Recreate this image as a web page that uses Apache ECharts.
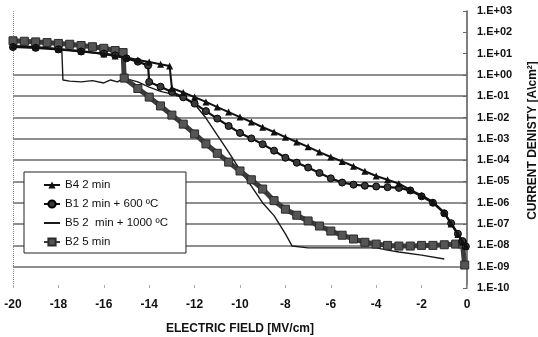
<!DOCTYPE html>
<html>
<head>
<meta charset="utf-8">
<script src="https://cdn.jsdelivr.net/npm/echarts@6/dist/echarts.min.js"></script>
<style>
  html, body { margin: 0; padding: 0; background: #fff; }
  #main { width: 538px; height: 337px; }
</style>
</head>
<body>
<div id="main"></div>
<script>
// electric field [MV/cm] and current density [A/cm2]
const xTicks = [-20, -18, -16, -14, -12, -10, -8, -6, -4, -2, 0]

const fieldB4 = [-20, -19, -18, -17, -16, -15.5, -15, -14.5, -14, -13.5, -13.1, -13, -12.5, -12, -11.5, -11, -10.5, -10, -9.5, -9, -8.5, -8, -7.5, -7, -6.5, -6, -5.5, -5, -4.5, -4, -3.5, -3, -2.5, -2, -1.5, -1, -0.7, -0.4, -0.2, -0.05]
const densityB4 = [23, 20.4, 16.6, 13.2, 9.5, 7.8, 6.6, 5.0, 4.0, 3.2, 2.6, 0.24, 0.15, 0.091, 0.054, 0.031, 0.018, 0.0105, 6.2e-3, 3.5e-3, 2.1e-3, 1.2e-3, 7.1e-4, 4.2e-4, 2.4e-4, 1.4e-4, 8.7e-5, 5.2e-5, 3.0e-5, 1.8e-5, 1.2e-5, 7.9e-6, 4.0e-6, 2.2e-6, 1.1e-6, 3.5e-7, 1.0e-7, 3.2e-8, 1.4e-8, 9.3e-9]

const fieldB1 = [-20, -19, -18, -17, -16, -15.5, -15, -14.5, -14.05, -14, -13.5, -13, -12.5, -12, -11.5, -11, -10.5, -10, -9.5, -9, -8.5, -8, -7.5, -7, -6.5, -6, -5.5, -5, -4.5, -4, -3.5, -3, -2.5, -2, -1.5, -1, -0.7, -0.4, -0.2, -0.05]
const densityB1 = [20.4, 18.6, 15.8, 12.6, 10, 8.3, 6.0, 4.2, 2.8, 0.47, 0.28, 0.16, 0.089, 0.045, 0.020, 8.9e-3, 4.0e-3, 1.9e-3, 1.05e-3, 5.6e-4, 2.8e-4, 1.3e-4, 7.6e-5, 4.5e-5, 2.5e-5, 1.4e-5, 8.9e-6, 7.1e-6, 6.3e-6, 5.8e-6, 5.4e-6, 5.0e-6, 3.8e-6, 2.0e-6, 1.0e-6, 3.2e-7, 1.1e-7, 3.5e-8, 1.6e-8, 8.9e-9]

const fieldB5 = [-20, -19, -18, -17.85, -17.8, -17.5, -17, -16.5, -16, -15.7, -15.4, -15.1, -14.5, -14, -13.5, -13, -12.5, -12, -11.5, -11, -10.5, -10, -9.5, -9, -8.5, -8, -7.7, -7, -6, -5, -4, -3.5, -3, -2, -1]
const densityB5 = [23, 20, 16.6, 15.8, 0.58, 0.51, 0.47, 0.54, 0.42, 0.58, 0.47, 0.71, 0.47, 0.27, 0.17, 0.126, 0.083, 0.043, 9.5e-3, 1.5e-3, 2.4e-4, 3.5e-5, 6.0e-6, 9.8e-7, 2.5e-7, 3.5e-8, 9.3e-9, 7.6e-9, 7.6e-9, 7.6e-9, 7.6e-9, 6.0e-9, 4.9e-9, 3.5e-9, 2.3e-9]

const fieldB2 = [-20, -19.5, -19, -18.5, -18, -17.5, -17, -16.5, -16, -15.5, -15.15, -15.1, -14.5, -14, -13.5, -13, -12.5, -12, -11.5, -11, -10.5, -10, -9.5, -9, -8.5, -8, -7.5, -7, -6.5, -6, -5.5, -5, -4.5, -4, -3.5, -3, -2.5, -2, -1.5, -1, -0.5, -0.2, -0.1]
const densityB2 = [40, 38, 35.5, 33, 30, 27.5, 24, 21, 17.8, 14, 11.2, 0.71, 0.23, 0.091, 0.035, 0.013, 4.9e-3, 1.7e-3, 5.8e-4, 2.1e-4, 8.1e-5, 3.1e-5, 1.2e-5, 4.4e-6, 1.26e-6, 5.0e-7, 2.6e-7, 1.4e-7, 8.1e-8, 4.7e-8, 3.0e-8, 2.0e-8, 1.4e-8, 1.15e-8, 1.0e-8, 9.3e-9, 9.3e-9, 1.0e-8, 1.0e-8, 1.07e-8, 1.15e-8, 1.15e-8, 1.2e-9]

const seriesNames = ['B4 2 min', 'B1 2 min + 600 ºC', 'B5 2  min + 1000 ºC', 'B2 5 min']

function pairs(xs, ys) {
  return xs.map(function (x, i) { return [x, ys[i]] })
}

// 1.E+03 style labels
function sciLabel(v) {
  const e = Math.round(Math.log10(v))
  return '1.E' + (e < 0 ? '-' : '+') + String(Math.abs(e)).padStart(2, '0')
}

const chart = echarts.init(document.getElementById('main'), null, { renderer: 'canvas' })

// only 1E-09 .. 1E+00 carry a grid line
const gridColors = []
for (let i = 0; i <= 13; i++) {
  gridColors.push(i >= 1 && i <= 10 ? '#6a6a6a' : 'rgba(0,0,0,0)')
}
const leftEdge = xTicks.map(function (t, i) { return i === 0 ? '#8a8a8a' : 'rgba(0,0,0,0)' })

var option = {
  backgroundColor: '#ffffff',
  animation: false,
  textStyle: { fontFamily: 'Liberation Sans, Arial, sans-serif' },
  grid: { left: 13, right: 71, top: 11, bottom: 49, outerBoundsMode: 'none', containLabel: false },
  legend: {
    data: [
      { name: seriesNames[0] },
      { name: seriesNames[1] },
      { name: seriesNames[2], itemStyle: { opacity: 0 } },
      { name: seriesNames[3] }
    ],
    orient: 'vertical',
    left: 24,
    top: 172,
    padding: [7, 18, 5, 19],
    itemGap: 7,
    itemWidth: 16,
    itemHeight: 9,
    backgroundColor: '#ffffff',
    borderColor: '#222',
    borderWidth: 1,
    borderRadius: 0,
    textStyle: { fontSize: 11.5, color: '#111', fontFamily: 'Liberation Sans, Arial, sans-serif' }
  },
  xAxis: {
    type: 'value',
    min: -20,
    max: 0,
    interval: 2,
    name: 'ELECTRIC FIELD [MV/cm]',
    nameLocation: 'middle',
    nameGap: 35,
    nameTextStyle: { fontSize: 12, fontWeight: 'bold', color: '#111' },
    axisLine: { show: false },
    axisTick: { show: true, inside: true, length: 3, lineStyle: { color: '#aaa' } },
    axisLabel: { fontSize: 12, fontWeight: 'bold', color: '#111', margin: 11 },
    splitLine: { show: true, lineStyle: { type: 'dotted', width: 1, color: leftEdge } }
  },
  yAxis: {
    type: 'log',
    logBase: 10,
    min: 1e-10,
    max: 1e3,
    interval: 1,
    splitNumber: 13,
    position: 'right',
    name: 'CURRENT DENISTY [A\\cm²]',
    nameLocation: 'middle',
    nameRotate: 90,
    nameGap: 60,
    nameTextStyle: { fontSize: 12, fontWeight: 'bold', color: '#111', padding: [0, 0, 0, 18] },
    axisLine: { show: true, lineStyle: { color: '#555', width: 1.5 } },
    axisTick: { show: true, inside: true, length: 4, lineStyle: { color: '#666' } },
    axisLabel: { fontSize: 11, fontWeight: 'bold', color: '#111', margin: 10, formatter: sciLabel },
    minorTick: { show: false },
    splitLine: { show: true, lineStyle: { color: gridColors, width: 1.5 } }
  },
  series: [
    {
      name: seriesNames[2],
      type: 'line',
      data: pairs(fieldB5, densityB5),
      symbol: 'none',
      lineStyle: { color: '#1a1a1a', width: 1.4 },
      itemStyle: { color: '#1a1a1a' },
      z: 2
    },
    {
      name: seriesNames[3],
      type: 'line',
      data: pairs(fieldB2, densityB2),
      symbol: 'rect',
      symbolSize: 8,
      showAllSymbol: true,
      lineStyle: { color: '#3c3c3c', width: 5 },
      itemStyle: { color: '#555', borderColor: '#2a2a2a', borderWidth: 1 },
      z: 3
    },
    {
      name: seriesNames[1],
      type: 'line',
      data: pairs(fieldB1, densityB1),
      symbol: 'circle',
      symbolSize: 7,
      showAllSymbol: true,
      lineStyle: { color: '#111', width: 2.2 },
      itemStyle: { color: '#3a3a3a', borderColor: '#000', borderWidth: 1 },
      z: 4
    },
    {
      name: seriesNames[0],
      type: 'line',
      data: pairs(fieldB4, densityB4),
      symbol: 'triangle',
      symbolSize: 7,
      showAllSymbol: true,
      lineStyle: { color: '#111', width: 2 },
      itemStyle: { color: '#111' },
      z: 5
    }
  ]
}

chart.setOption(option)
</script>
</body>
</html>
